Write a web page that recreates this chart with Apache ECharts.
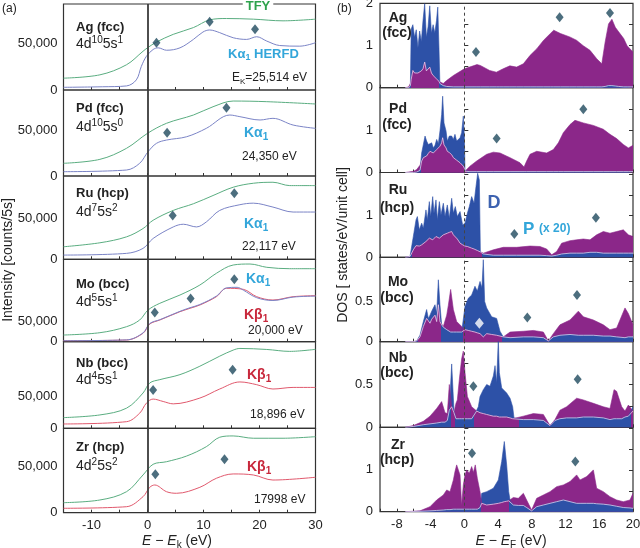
<!DOCTYPE html>
<html>
<head>
<meta charset="utf-8">
<script src="https://cdn.jsdelivr.net/npm/echarts@6.0.0/dist/echarts.min.js"></script>
<style>
html,body{margin:0;padding:0;background:#fff;}
#chart{width:640px;height:548px;}
</style>
</head>
<body>
<div id="chart"></div>
<script>
// ---------- (a) spectra: [E - Ek (eV), counts/5s] ----------
var agTfy = [[-15,12800],[-8.5,16400],[-3.75,27300],[-0.8,41900],[0,45600],[1.6,51800],[4.6,60200],[8.2,67500],[11.1,75800],[14.1,77300],[18.9,76600],[24.2,74800],[30,76600]];
var agHerfd = [[-15,2900],[-8,3500],[-3.75,4400],[-2,10900],[-1.1,25500],[-0.2,36400],[1,43800],[1.9,45600],[3.4,43000],[5.8,45600],[8.2,54700],[9.9,62700],[11.1,64900],[12.9,62000],[15.3,56500],[17.7,54700],[19.5,57600],[21.3,52900],[23.6,48100],[27.2,47400],[30,51100]];
var pdTfy = [[-15,13800],[-8.5,18100],[-3.75,30100],[0,46400],[3.4,57300],[8.2,66300],[11.7,75300],[15.3,81500],[21.3,80800],[30,78300]];
var pdHerfd = [[-15,4700],[-3.75,6500],[-1.4,13800],[0.1,26400],[1.6,35500],[3.4,39100],[7,42700],[10.5,51800],[14.7,66300],[16.5,64500],[20.1,60900],[22.4,62700],[26,55400],[30,51800]];
var ruTfy = [[-15,15400],[-8.5,20300],[-3.75,27600],[-0.8,37800],[1,48000],[4.6,60100],[8.2,68300],[11.7,78400],[15.3,88600],[18.9,93500],[22.4,94700],[25.4,90600],[30,90600]];
var ruHerfd = [[-15,5200],[-3.75,7300],[-0.8,13400],[1,25600],[4.6,39800],[6.4,43100],[8.75,39800],[10.5,45900],[12.9,60100],[16.5,67100],[18.9,69000],[22.4,64200],[26,58100],[30,58100]];
var moTfy = [[-15,16700],[-8.5,22500],[-3.75,37500],[-1.4,54200],[0.1,79200],[2.2,96000],[5.8,116700],[9.35,141700],[12.3,171000],[15.3,191700],[18.3,194200],[21.3,186000],[25.4,182500],[30,182500]];
var moKa = [[-15,2500],[-3.75,4500],[-0.8,22000],[0.4,45500],[2.2,55000],[5.8,76000],[7.6,85000],[9.35,93000],[12.3,114000],[14.1,134500],[16,136000],[17.1,129000],[19.5,110000],[22.4,103000],[26,111500],[30,114000]];
var moKb = [[-15,2500],[-3.75,4200],[-0.8,21000],[0.4,44200],[2.2,54200],[5.8,75000],[7.6,83500],[9.35,91700],[12.3,112500],[14.1,133500],[17.1,131000],[19.5,112500],[22.4,104200],[26,112500],[30,115000]];
var nbTfy = [[-15,16800],[-8.5,21000],[-3.75,31600],[-0.8,55400],[0.4,71200],[2.2,76400],[5.8,84300],[9.35,97500],[12.9,113300],[15.3,122800],[16.5,125400],[21.3,123800],[25.4,120800],[30,124000]];
var nbKb = [[-15,6800],[-3.75,10400],[-1.4,23700],[-0.2,39500],[1,45900],[2.8,42100],[4.6,38400],[9.35,47500],[12.9,61700],[16.5,72800],[19.5,68500],[22.4,61700],[26,64200],[30,64200]];
var zrTfy = [[-15,10900],[-8.5,13800],[-3.75,22800],[-0.8,41000],[1,52600],[3.4,55400],[7,61600],[10.5,71700],[12.9,82000],[15.3,83400],[18.9,80900],[24.2,80900],[30,82600]];
var zrKb = [[-15,4800],[-3.75,6500],[-0.8,17400],[0.4,27600],[1.3,30100],[3.4,22800],[5.2,21100],[9.35,27600],[12.3,37400],[15.3,42100],[18.9,41000],[22.4,35500],[30,38500]];

var agMarks = [[1.6,51100],[11.1,73700],[19.2,65600]];
var pdMarks = [[3.5,47100],[14.1,74200]];
var ruMarks = [[4.5,53700],[15.5,81300]];
var moMarks = [[1.3,73300],[7.7,108300],[15.5,156000]];
var nbMarks = [[1.0,60100],[15.2,91800]];
var zrMarks = [[1.4,41700],[13.75,58000]];

// ---------- (b) DOS: E - EF (eV), D and P(x20) in states/eV/unit cell ----------
var agDosE = [-7.0,-6.6,-6.4,-6.3,-6.1,-5.9,-5.7,-5.5,-5.3,-5.1,-4.9,-4.7,-4.5,-4.3,-4.1,-3.9,-3.7,-3.5,-3.3,-3.15,-3.0,-2.9,-2.5,-2.1,-1.3,0,1.5,1.9,3.0,3.8,4.2,4.6,5.4,6.2,7.0,7.8,8.6,9.4,10.2,10.6,11.4,12.5,13.3,14.1,14.9,15.7,16.3,16.7,17.1,17.5,17.9,18.3,18.9,19.3,20];
var agDosD = [0,0,0.05,1.4,1.5,1.2,1.38,0.95,1.35,1.1,1.6,2.0,1.2,1.45,1.95,1.3,1.5,1.3,1.6,1.92,0.9,0.1,0.05,0.03,0.02,0.02,0.02,0.02,0.02,0.02,0.02,0.02,0.02,0.02,0.02,0.02,0.02,0.02,0.02,0.02,0.02,0.02,0.02,0.02,0.02,0.02,0.02,0.03,0.05,0.05,0.04,0.03,0.02,0.02,0.02];
var agDosP = [0,0.02,0.1,0.2,0.41,0.35,0.33,0.35,0.37,0.4,0.45,0.61,0.4,0.37,0.49,0.35,0.29,0.25,0.21,0.18,0.15,0.13,0.1,0.17,0.29,0.45,0.55,0.53,0.41,0.37,0.41,0.45,0.52,0.49,0.57,0.77,0.93,1.13,1.29,1.37,1.29,1.21,1.13,1.0,0.89,0.69,0.57,1.09,1.52,1.63,1.44,1.33,1.17,1.0,0.85];

var pdDosE = [-7,-6.0,-5.65,-5.26,-5.06,-4.86,-4.66,-4.47,-4.27,-4.07,-3.87,-3.68,-3.48,-3.28,-3.08,-2.89,-2.69,-2.57,-2.41,-2.17,-2.02,-1.78,-1.5,-1.3,-1.11,-0.91,-0.71,-0.51,-0.32,-0.12,0,0.08,0.67,1.46,2.65,3.44,4.23,5.42,6.6,7.08,7.39,7.79,8.58,9.76,10.55,11.15,11.74,12.53,13.12,14.11,15.3,16.48,17.27,18.06,18.85,19.45,20];
var pdDosD = [0,0,0.01,0.05,0.46,0.66,0.86,0.74,0.66,0.62,0.7,0.58,0.64,0.78,0.68,0.98,1.37,1.8,1.17,0.98,0.74,0.86,0.86,0.78,0.9,0.74,0.76,0.82,0.94,1.33,0.86,0.05,0.02,0.02,0.02,0.02,0.02,0.02,0.02,0.02,0.02,0.02,0.02,0.02,0.02,0.02,0.02,0.02,0.02,0.02,0.02,0.02,0.02,0.02,0.02,0.02,0.02];
var pdDosP = [0,0.03,0.07,0.17,0.27,0.35,0.37,0.39,0.45,0.5,0.48,0.46,0.5,0.54,0.58,0.62,0.7,0.82,0.65,0.58,0.5,0.47,0.42,0.35,0.32,0.29,0.27,0.23,0.19,0.15,0.1,0.03,0.15,0.27,0.43,0.48,0.46,0.35,0.23,0.13,0.27,0.43,0.5,0.46,0.54,0.7,0.94,1.13,1.23,1.17,1.11,1.02,0.9,0.8,0.66,0.58,0.64];

var ruDosE = [-7,-6.44,-6.05,-5.73,-5.57,-5.34,-5.06,-4.86,-4.55,-4.39,-4.15,-3.99,-3.75,-3.6,-3.36,-3.2,-2.96,-2.77,-2.49,-2.29,-2.02,-1.78,-1.5,-1.3,-1.07,-0.83,-0.51,-0.2,0.08,0.36,0.59,0.87,1.15,1.38,1.58,1.78,1.9,2.25,3.44,4.62,6.21,7.79,8.97,9.76,10.36,10.95,11.54,12.53,13.32,14.11,14.9,15.69,16.48,17.27,18.06,18.85,19.45,20];
var ruDosD = [0,0.02,0.5,0.9,0.98,0.66,0.82,0.7,1.14,0.9,1.34,0.98,1.46,1.06,1.38,0.9,1.34,1.02,1.3,0.98,1.26,0.94,1.42,1.06,1.22,0.98,1.1,0.78,0.82,1.06,1.22,1.46,1.3,1.7,2.02,1.86,0.14,0.08,0.05,0.05,0.05,0.05,0.05,0.04,0.03,0.05,0.08,0.1,0.1,0.1,0.12,0.12,0.1,0.1,0.1,0.1,0.1,0.1];
var ruDosP = [0,0.02,0.18,0.28,0.3,0.27,0.3,0.34,0.38,0.36,0.46,0.44,0.42,0.46,0.5,0.48,0.46,0.5,0.54,0.56,0.58,0.6,0.62,0.54,0.5,0.44,0.34,0.3,0.27,0.26,0.24,0.22,0.2,0.18,0.16,0.14,0.13,0.1,0.18,0.24,0.24,0.27,0.26,0.2,0.06,0.14,0.34,0.4,0.42,0.44,0.42,0.54,0.62,0.58,0.62,0.66,0.54,0.5];

var moDosE = [-7,-6.05,-5.65,-5.26,-4.86,-4.47,-4.27,-4.07,-3.87,-3.48,-3.28,-3.08,-2.89,-2.69,-2.49,-2.09,-1.9,-1.62,-1.3,-0.91,-0.32,0.08,0.47,0.87,1.26,1.54,1.86,2.09,2.25,2.41,2.65,3.24,3.83,4.23,4.62,5.42,7.0,8.18,9.37,9.96,10.55,11.34,12.53,13.52,14.11,15.3,16.48,17.27,18.06,19.05,19.45,20];
var moDosD = [0,0,0.01,0.08,0.25,0.4,0.29,0.33,0.38,0.46,0.35,0.77,0.46,0.21,0.18,0.15,0.13,0.12,0.12,0.12,0.12,0.44,0.54,0.58,0.69,0.63,0.75,0.67,1.02,0.5,0.42,0.31,0.29,0.13,0.06,0.05,0.06,0.06,0.05,0.01,0.06,0.08,0.09,0.08,0.08,0.08,0.07,0.07,0.06,0.05,0.06,0.06];
var moDosP = [0,0,0.01,0.06,0.19,0.29,0.26,0.23,0.28,0.33,0.25,0.46,0.25,0.22,0.19,0.33,0.45,0.65,0.4,0.25,0.19,0.15,0.14,0.13,0.12,0.11,0.1,0.08,0.06,0.08,0.1,0.09,0.08,0.07,0.06,0.12,0.13,0.14,0.12,0.01,0.1,0.21,0.27,0.38,0.31,0.27,0.21,0.15,0.17,0.42,0.35,0.21];

var nbDosE = [-7,-6.05,-4.86,-4.07,-3.28,-2.69,-2.29,-2.02,-1.78,-1.5,-1.23,-0.99,-0.83,-0.59,-0.32,-0.12,0.08,0.36,0.87,1.46,1.66,1.86,2.25,2.65,3.04,3.44,3.64,3.83,4.03,4.15,4.43,5.02,5.42,5.73,5.89,7.0,8.18,9.37,10.16,10.75,11.34,12.13,13.32,14.11,15.3,16.48,17.27,17.75,18.06,18.66,19.05,19.45,20];
var nbDosD = [0,0.01,0.03,0.04,0.05,0.06,0.06,0.08,0.2,0.74,0.2,0.1,0.1,0.1,0.1,0.12,0.1,0.1,0.1,0.2,0.24,0.36,0.44,0.5,0.48,0.6,0.72,0.52,1.03,0.64,0.46,0.4,0.34,0.24,0.11,0.09,0.09,0.08,0.02,0.08,0.1,0.11,0.11,0.12,0.12,0.11,0.09,0.1,0.1,0.1,0.12,0.13,0.24];
var nbDosP = [0,0.02,0.07,0.13,0.22,0.3,0.17,0.16,0.5,0.24,0.17,0.28,0.32,0.56,0.8,0.89,0.64,0.36,0.24,0.19,0.18,0.17,0.16,0.15,0.14,0.13,0.13,0.13,0.13,0.12,0.12,0.12,0.11,0.1,0.09,0.13,0.16,0.15,0.02,0.09,0.2,0.24,0.34,0.32,0.28,0.24,0.22,0.44,0.42,0.24,0.19,0.26,0.19];

var zrDosE = [-7,-5.26,-4.07,-3.28,-2.49,-2.09,-1.7,-1.3,-1.11,-0.91,-0.71,-0.51,-0.32,-0.12,0.08,0.28,0.59,0.87,1.07,1.3,1.54,1.86,2.06,2.65,3.44,4.03,4.43,4.74,5.02,5.26,5.42,5.81,6.4,7.0,7.39,7.98,8.58,9.37,10.16,10.95,11.74,12.53,13.32,13.72,14.51,15.3,15.69,16.48,17.27,18.06,18.85,19.64,20];
var zrDosD = [0,0.01,0.02,0.03,0.04,0.05,0.05,0.06,0.06,0.06,0.06,0.06,0.05,0.06,0.06,0.06,0.06,0.06,0.06,0.06,0.06,0.1,0.44,0.48,0.56,0.76,1.2,1.68,1.12,0.48,0.28,0.16,0.15,0.15,0.1,0.02,0.12,0.16,0.2,0.24,0.28,0.24,0.2,0.2,0.2,0.2,0.19,0.18,0.16,0.13,0.1,0.09,0.08];
var zrDosP = [0,0.02,0.12,0.28,0.4,0.52,0.48,0.76,0.96,1.12,1.0,0.88,0.16,0.64,0.88,1.0,0.92,1.08,0.94,1.12,0.8,0.48,0.2,0.16,0.18,0.2,0.22,0.24,0.25,0.26,0.28,0.34,0.32,0.44,0.28,0.04,0.32,0.4,0.48,0.6,0.64,0.72,0.88,0.76,0.84,1.0,0.56,0.48,0.36,0.28,0.24,0.28,0.44];

var agDosMarks = [[1.38,0.85],[11.3,1.68],[17.27,1.78]];
var pdDosMarks = [[3.83,0.8],[14.11,1.49]];
var ruDosMarks = [[5.93,0.56],[15.6,0.95]];
var moDosMarks = [[7.47,0.3],[13.36,0.58]];
var moDosOpen = [[1.78,0.23]];
var nbDosMarks = [[1.07,0.48],[13.44,0.56]];
var zrDosMarks = [[0.91,1.4],[13.16,1.2]];

// ---------- styling / layout ----------
var FONT = '"Liberation Sans", Arial, sans-serif';
var GREEN = '#5aad80', HBLUE = '#7b84c6', HRED = '#e0596d';
var DBLUE = '#2d51a7', DPURP = '#8b2789', LIGHT = 'rgba(236,222,244,0.9)', MARK = '#1f4a5e';
var CYAN = '#33a6da', RED = '#c8283c', TGREEN = '#2ea24c';

var leftEdges = [4, 90, 176, 259.3, 341.7, 428.3, 512.7];
var rightEdges = [3.3, 87.7, 172.5, 257.3, 341.7, 427.3, 511.7];
var leftYMax = [93000, 93500, 102400, 206000, 136000, 91700];
var rightYMax = [2.01, 2.0, 2.04, 1.05, 1.0, 2.02];
var rightYStep = [0.5, 0.5, 0.5, 0.25, 0.25, 0.5];
var rightYLabels = [[0,1,2],[0,1],[0,1],[0,0.5],[0,0.5],[0,1]];

var leftSets = [
  {tfy: agTfy, em: [{d: agHerfd, c: HBLUE}], marks: agMarks},
  {tfy: pdTfy, em: [{d: pdHerfd, c: HBLUE}], marks: pdMarks},
  {tfy: ruTfy, em: [{d: ruHerfd, c: HBLUE}], marks: ruMarks},
  {tfy: moTfy, em: [{d: moKb, c: HRED}, {d: moKa, c: HBLUE}], marks: moMarks},
  {tfy: nbTfy, em: [{d: nbKb, c: HRED}], marks: nbMarks},
  {tfy: zrTfy, em: [{d: zrKb, c: HRED}], marks: zrMarks}
];
var rightSets = [
  {e: agDosE, d: agDosD, p: agDosP, marks: agDosMarks},
  {e: pdDosE, d: pdDosD, p: pdDosP, marks: pdDosMarks},
  {e: ruDosE, d: ruDosD, p: ruDosP, marks: ruDosMarks},
  {e: moDosE, d: moDosD, p: moDosP, marks: moDosMarks, open: moDosOpen},
  {e: nbDosE, d: nbDosD, p: nbDosP, marks: nbDosMarks},
  {e: zrDosE, d: zrDosD, p: zrDosP, marks: zrDosMarks}
];

function lowPieces(e, d, p) {
  var pieces = [], start = -100, col = d[0] <= p[0] ? DBLUE : DPURP;
  for (var k = 1; k < e.length; k++) {
    var c = d[k] <= p[k] ? DBLUE : DPURP;
    if (c !== col) {
      var b = (e[k - 1] + e[k]) / 2;
      pieces.push({gte: start, lt: b, color: col});
      start = b; col = c;
    }
  }
  pieces.push({gte: start, lte: 100, color: col});
  return pieces;
}

var grids = [], xAxes = [], yAxes = [], series = [], visualMaps = [];
var tickStyle = {show: true, inside: true, length: 3, lineStyle: {color: '#333', width: 1}};
var axLabel = {fontSize: 13, color: '#222', fontFamily: FONT};

// (a) panels
for (var i = 0; i < 6; i++) {
  grids.push({left: 63.5, width: 252, top: leftEdges[i], height: leftEdges[i + 1] - leftEdges[i],
    show: true, borderColor: '#333', borderWidth: 1.2, backgroundColor: 'transparent', outerBoundsMode: 'none'});
  xAxes.push({type: 'value', gridIndex: i, min: -15, max: 30, interval: 5,
    axisLine: {show: false}, splitLine: {show: false}, axisTick: tickStyle,
    axisLabel: Object.assign({show: i === 5, margin: 6, formatter: function (v) { return v % 10 === 0 ? String(v) : ''; }}, axLabel)});
  yAxes.push({type: 'value', gridIndex: i, min: 0, max: leftYMax[i], interval: 50000,
    axisLine: {show: false}, splitLine: {show: false}, axisTick: {show: false},
    axisLabel: Object.assign({margin: 6, formatter: function (v) { return v === 0 ? '0' : (v === 50000 ? '50,000' : ''); }}, axLabel)});
  var s = leftSets[i];
  series.push({type: 'line', xAxisIndex: i, yAxisIndex: i, data: s.tfy, smooth: 0.35, symbol: 'none', silent: true, z: 3,
    lineStyle: {color: GREEN, width: 1},
    markLine: {silent: true, symbol: 'none', label: {show: false}, lineStyle: {color: '#3a3a3a', width: 1.8, type: 'solid'}, data: [{xAxis: 0}]}});
  s.em.forEach(function (c) {
    series.push({type: 'line', xAxisIndex: i, yAxisIndex: i, data: c.d, smooth: 0.35, symbol: 'none', silent: true, z: 3,
      lineStyle: {color: c.c, width: 1}});
  });
  series.push({type: 'scatter', xAxisIndex: i, yAxisIndex: i, data: s.marks, symbol: 'diamond', symbolSize: [8, 10],
    itemStyle: {color: MARK}, silent: true, z: 5});
}

// (b) panels
for (var j = 0; j < 6; j++) {
  var g = 6 + j;
  grids.push({left: 380, width: 253, top: rightEdges[j], height: rightEdges[j + 1] - rightEdges[j],
    show: true, borderColor: '#333', borderWidth: 1.2, backgroundColor: 'transparent', outerBoundsMode: 'none'});
  xAxes.push({type: 'value', gridIndex: g, min: -10, max: 20, interval: 2,
    axisLine: {show: false}, splitLine: {show: false}, axisTick: tickStyle,
    axisLabel: Object.assign({show: j === 5, margin: 6, formatter: function (v) { return v % 4 === 0 ? String(v) : ''; }}, axLabel)});
  (function (labs) {
    yAxes.push({type: 'value', gridIndex: g, min: 0, max: rightYMax[j], interval: rightYStep[j],
      axisLine: {show: false}, splitLine: {show: false}, axisTick: {show: true, inside: true, length: 4, lineStyle: {color: '#333'}},
      axisLabel: Object.assign({margin: 7, formatter: function (v) { return labs.indexOf(v) >= 0 ? String(v) : ''; }}, axLabel)});
  })(rightYLabels[j]);
  var r = rightSets[j];
  var dPts = r.e.map(function (x, k) { return [x, r.d[k]]; });
  var pPts = r.e.map(function (x, k) { return [x, r.p[k]]; });
  var lowPts = r.e.map(function (x, k) { return [x, Math.min(r.d[k], r.p[k])]; });
  series.push({type: 'line', xAxisIndex: g, yAxisIndex: g, data: dPts, symbol: 'none', silent: true, z: 2,
    lineStyle: {color: DBLUE, width: 0.6}, areaStyle: {color: DBLUE, opacity: 1}});
  series.push({type: 'line', xAxisIndex: g, yAxisIndex: g, data: pPts, symbol: 'none', silent: true, z: 2,
    lineStyle: {color: DPURP, width: 0.6}, areaStyle: {color: DPURP, opacity: 1}});
  visualMaps.push({type: 'piecewise', show: false, dimension: 0, seriesIndex: series.length, pieces: lowPieces(r.e, r.d, r.p)});
  series.push({type: 'line', xAxisIndex: g, yAxisIndex: g, data: lowPts, symbol: 'none', silent: true, z: 2,
    lineStyle: {color: LIGHT, width: 0.8}, areaStyle: {opacity: 1}});
  series.push({type: 'scatter', xAxisIndex: g, yAxisIndex: g, data: r.marks, symbol: 'diamond', symbolSize: [8, 10],
    itemStyle: {color: MARK}, silent: true, z: 5,
    markLine: {silent: true, symbol: 'none', label: {show: false}, lineStyle: {color: '#444', width: 1, type: [3, 3]}, data: [{xAxis: 0}]}});
  if (r.open) {
    series.push({type: 'scatter', xAxisIndex: g, yAxisIndex: g, data: r.open, symbol: 'diamond', symbolSize: [9, 11],
      itemStyle: {color: '#ffffff'}, silent: true, z: 6});
  }
}
// ticks on the right edge of (b) panels
for (var q = 0; q < 6; q++) {
  yAxes.push({type: 'value', gridIndex: 6 + q, position: 'right', min: 0, max: rightYMax[q], interval: rightYStep[q],
    axisLine: {show: false}, splitLine: {show: false}, axisLabel: {show: false},
    axisTick: {show: true, inside: true, length: 4, lineStyle: {color: '#333'}}});
}

// ---------- text ----------
function rich(size, weight, color) {
  var base = {fontSize: size, fontWeight: weight, fill: color, color: color, fontFamily: FONT, lineHeight: size + 4};
  var small = Math.round(size * 0.68);
  return {
    n: base,
    i: Object.assign({}, base, {fontStyle: 'italic'}),
    sup: Object.assign({}, base, {fontSize: small, lineHeight: small + 1, verticalAlign: 'top'}),
    sub: Object.assign({}, base, {fontSize: small, lineHeight: small + 1, verticalAlign: 'bottom'})
  };
}
function txt(x, y, text, size, weight, color, align, extra) {
  var el = {type: 'text', x: x, y: y, silent: true, z: 100,
    style: {text: text, rich: rich(size, weight, color), align: align || 'left', verticalAlign: 'middle',
      fill: color, fontSize: size, fontWeight: weight, fontFamily: FONT}};
  if (extra) { Object.assign(el.style, extra.style || {}); if (extra.rotation) el.rotation = extra.rotation; }
  return el;
}

var graphics = [];
graphics.push(txt(2, 9, '{n|(a)}', 12, 'normal', '#222'));
graphics.push(txt(337, 9, '{n|(b)}', 12, 'normal', '#222'));
graphics.push(txt(8, 260, '{n|Intensity [counts/5s]}', 14, 'normal', '#222', 'center', {rotation: Math.PI / 2}));
graphics.push(txt(343, 245, '{n|DOS [ states/eV/unit cell]}', 14, 'normal', '#222', 'center', {rotation: Math.PI / 2}));
graphics.push(txt(177, 541, '{i|E}{n| − }{i|E}{sub|k}{n| (eV)}', 14, 'normal', '#222', 'center'));
graphics.push(txt(511, 541, '{i|E}{n| − }{i|E}{sub|F}{n| (eV)}', 14, 'normal', '#222', 'center'));

// (a) labels
var leftNames = [['Ag (fcc)', '4d{sup|10}{n|5s}{sup|1}', 27, 44], ['Pd (fcc)', '4d{sup|10}{n|5s}{sup|0}', 108, 127],
  ['Ru (hcp)', '4d{sup|7}{n|5s}{sup|2}', 193, 212], ['Mo (bcc)', '4d{sup|5}{n|5s}{sup|1}', 284, 302],
  ['Nb (bcc)', '4d{sup|4}{n|5s}{sup|1}', 363, 380], ['Zr (hcp)', '4d{sup|2}{n|5s}{sup|2}', 447, 466]];
leftNames.forEach(function (n) {
  graphics.push(txt(76, n[2], '{n|' + n[0] + '}', 13, 'bold', '#222'));
  graphics.push(txt(76, n[3], '{n|' + n[1].replace(/^4d/, '4d}').replace(/^/, '') , 14, 'normal', '#222'));
});
graphics.push(txt(258, 6, '{n|TFY}', 13, 'bold', TGREEN, 'center', {style: {backgroundColor: '#fff', padding: [0, 3]}}));
graphics.push(txt(228, 54, '{n|Kα}{sub|1}{n| HERFD}', 13, 'bold', CYAN));
graphics.push(txt(232, 78, '{n|E}{sub|K}{n|=25,514 eV}', 12, 'normal', '#222'));
graphics.push(txt(244, 133, '{n|Kα}{sub|1}', 14, 'bold', CYAN));
graphics.push(txt(242, 157, '{n|24,350 eV}', 12, 'normal', '#222'));
graphics.push(txt(244, 224, '{n|Kα}{sub|1}', 14, 'bold', CYAN));
graphics.push(txt(242, 247, '{n|22,117 eV}', 12, 'normal', '#222'));
graphics.push(txt(246, 279, '{n|Kα}{sub|1}', 14, 'bold', CYAN));
graphics.push(txt(244, 315, '{n|Kβ}{sub|1}', 14, 'bold', RED));
graphics.push(txt(248, 331, '{n|20,000 eV}', 12, 'normal', '#222'));
graphics.push(txt(247, 375, '{n|Kβ}{sub|1}', 14, 'bold', RED));
graphics.push(txt(250, 415, '{n|18,896 eV}', 12, 'normal', '#222'));
graphics.push(txt(247, 467, '{n|Kβ}{sub|1}', 14, 'bold', RED));
graphics.push(txt(254, 500, '{n|17998 eV}', 12, 'normal', '#222'));

// (b) labels
var rightNames = [['Ag', '(fcc)', 18, 33], ['Pd', '(fcc)', 109, 125], ['Ru', '(hcp)', 190, 208],
  ['Mo', '(bcc)', 282, 298], ['Nb', '(bcc)', 358, 373], ['Zr', '(hcp)', 445, 460]];
rightNames.forEach(function (n) {
  graphics.push(txt(398, n[2], '{n|' + n[0] + '}', 14, 'bold', '#222', 'center'));
  graphics.push(txt(397, n[3], '{n|' + n[1] + '}', 14, 'bold', '#222', 'center'));
});
graphics.push(txt(494, 203, '{n|D}', 18, 'bold', '#3d62b0', 'center'));
graphics.push(txt(523, 229, '{n|P }{s|(x 20)}', 17, 'bold', CYAN));
graphics[graphics.length - 1].style.rich.s = {fontSize: 12, fontWeight: 'bold', fill: CYAN, fontFamily: FONT, lineHeight: 21};

var chart = echarts.init(document.getElementById('chart'));
chart.setOption({
  animation: false,
  backgroundColor: '#fff',
  textStyle: {fontFamily: FONT},
  grid: grids,
  xAxis: xAxes,
  yAxis: yAxes,
  visualMap: visualMaps,
  series: series,
  graphic: graphics
});
</script>
</body>
</html>
